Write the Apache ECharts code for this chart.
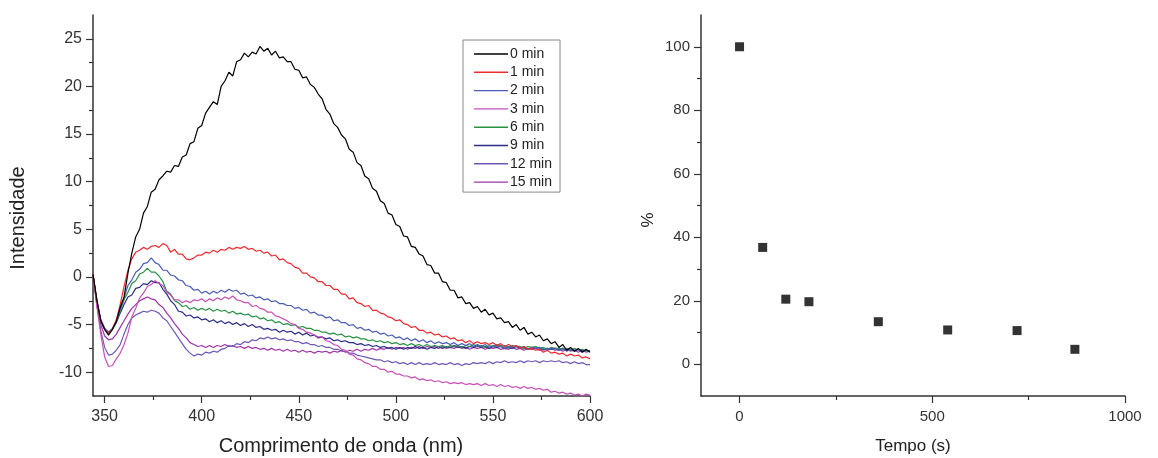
<!DOCTYPE html>
<html>
<head>
<meta charset="utf-8">
<script src="https://cdn.jsdelivr.net/npm/echarts@6/dist/echarts.min.js"></script>
<style>
html,body{margin:0;padding:0;background:#fff;}
#chart{width:1158px;height:458px;}
</style>
</head>
<body>
<div id="chart"></div>
<script>
// ---------- DATA ----------
const wavelengths = [
344,346,348,350,352,354,356,358,360,362,
364,366,368,370,372,374,376,378,380,382,
384,386,388,390,392,394,396,398,400,402,
404,406,408,410,412,414,416,418,420,422,
424,426,428,430,432,434,436,438,440,442,
444,446,448,450,452,454,456,458,460,462,
464,466,468,470,472,474,476,478,480,482,
484,486,488,490,492,494,496,498,500,502,
504,506,508,510,512,514,516,518,520,522,
524,526,528,530,532,534,536,538,540,542,
544,546,548,550,552,554,556,558,560,562,
564,566,568,570,572,574,576,578,580,582,
584,586,588,590,592,594,596,598,600];

const seriesNames = ['0 min','1 min','2 min','3 min','6 min','9 min','12 min','15 min'];

const int0min = [
0.3,-2.4,-4.6,-5.5,-6.1,-5.5,-4.7,-3.2,-2.1,0.4,
2.5,4.2,5.0,6.7,7.4,8.9,9.2,10.2,10.6,11.1,
11.0,11.7,11.6,12.6,12.8,14.0,14.2,15.6,15.9,17.2,
17.8,18.4,18.1,20.0,20.6,21.5,21.1,22.6,22.8,23.5,
23.1,23.6,23.4,24.2,23.7,24.0,23.3,23.7,23.0,23.1,
22.6,22.6,21.8,21.7,20.9,21.0,20.2,19.9,19.2,18.7,
17.6,17.1,16.1,15.7,14.9,14.5,13.4,13.1,12.0,11.7,
10.6,10.3,9.3,9.0,8.0,7.7,6.7,6.5,5.5,5.3,
4.3,4.2,3.2,3.1,2.4,2.2,1.3,1.2,0.4,0.4,
-0.5,-0.6,-1.4,-1.4,-2.2,-2.1,-2.8,-2.7,-3.3,-3.1,
-3.7,-3.4,-4.0,-3.8,-4.4,-4.3,-4.8,-4.7,-5.3,-5.0,
-5.6,-5.3,-6.0,-5.8,-6.3,-6.1,-6.7,-6.5,-7.0,-6.8,
-7.4,-7.1,-7.7,-7.4,-7.8,-7.5,-7.9,-7.6,-7.9];

const int1min = [
0.2,-2.5,-4.6,-5.5,-5.9,-5.5,-4.5,-2.9,-1.0,0.7,
1.9,2.6,2.8,3.1,2.9,3.2,3.3,3.1,3.5,3.3,
2.6,2.9,2.4,2.4,1.9,1.8,2.0,2.3,2.3,2.6,
2.5,2.8,2.6,2.9,2.8,3.1,2.9,3.1,3.0,3.2,
2.9,3.0,2.7,2.8,2.5,2.6,2.2,2.3,1.8,1.9,
1.5,1.4,1.0,0.9,0.4,0.4,0.0,-0.1,-0.5,-0.5,
-0.9,-0.9,-1.3,-1.3,-1.8,-1.8,-2.3,-2.2,-2.7,-2.8,
-3.1,-3.0,-3.5,-3.5,-3.8,-3.9,-4.2,-4.3,-4.6,-4.5,
-4.9,-5.0,-5.3,-5.2,-5.6,-5.6,-5.9,-5.8,-6.1,-6.0,
-6.3,-6.2,-6.5,-6.4,-6.7,-6.6,-6.9,-6.7,-7.0,-6.8,
-7.0,-6.9,-7.1,-6.9,-7.2,-7.0,-7.3,-7.1,-7.3,-7.2,
-7.5,-7.3,-7.6,-7.5,-7.7,-7.6,-7.9,-7.7,-8.0,-7.9,
-8.1,-8.0,-8.3,-8.1,-8.3,-8.2,-8.5,-8.4,-8.6];

const int2min = [
0.2,-2.6,-4.5,-5.4,-5.8,-5.4,-4.6,-3.4,-2.2,-0.9,
-0.3,0.5,0.8,1.4,1.5,2.0,1.5,1.3,0.7,0.7,
0.2,0.1,-0.3,-0.4,-0.9,-1.0,-1.4,-1.3,-1.7,-1.5,
-1.8,-1.5,-1.7,-1.4,-1.6,-1.3,-1.5,-1.4,-1.8,-1.7,
-2.0,-1.9,-2.2,-2.1,-2.4,-2.3,-2.6,-2.5,-2.8,-2.8,
-3.0,-3.0,-3.3,-3.2,-3.5,-3.4,-3.8,-3.7,-4.0,-4.0,
-4.3,-4.2,-4.6,-4.5,-4.8,-4.8,-5.1,-5.0,-5.4,-5.3,
-5.6,-5.5,-5.8,-5.7,-6.0,-5.9,-6.2,-6.1,-6.4,-6.3,
-6.6,-6.4,-6.7,-6.5,-6.8,-6.6,-6.9,-6.7,-7.0,-6.8,
-7.0,-6.9,-7.1,-6.9,-7.2,-7.0,-7.2,-7.0,-7.3,-7.1,
-7.3,-7.1,-7.4,-7.2,-7.3,-7.2,-7.5,-7.3,-7.4,-7.3,
-7.5,-7.3,-7.6,-7.4,-7.5,-7.4,-7.7,-7.5,-7.6,-7.5,
-7.7,-7.5,-7.8,-7.6,-7.7,-7.6,-7.9,-7.7,-7.8];

const int3min = [
0.3,-3.1,-6.0,-8.4,-9.4,-9.3,-8.6,-8.0,-7.1,-5.9,
-4.2,-3.3,-2.2,-1.7,-1.0,-0.8,-0.4,-0.7,-0.9,-1.6,
-1.9,-2.4,-2.4,-2.7,-2.5,-2.7,-2.4,-2.5,-2.3,-2.6,
-2.3,-2.5,-2.2,-2.4,-2.1,-2.3,-2.0,-2.4,-2.5,-2.7,
-2.7,-3.1,-3.0,-3.3,-3.4,-3.7,-3.7,-4.1,-4.2,-4.4,
-4.6,-4.9,-5.0,-5.4,-5.5,-5.8,-5.9,-6.1,-6.3,-6.3,
-6.7,-6.8,-7.1,-7.2,-7.6,-7.7,-8.1,-8.2,-8.6,-8.7,
-9.0,-9.1,-9.4,-9.4,-9.7,-9.7,-10.0,-9.9,-10.2,-10.2,
-10.4,-10.4,-10.6,-10.5,-10.8,-10.7,-10.9,-10.8,-11.0,-10.9,
-11.1,-11.0,-11.2,-11.1,-11.2,-11.1,-11.3,-11.2,-11.3,-11.2,
-11.4,-11.2,-11.4,-11.3,-11.5,-11.3,-11.5,-11.4,-11.6,-11.5,
-11.7,-11.5,-11.7,-11.6,-11.8,-11.7,-11.9,-11.8,-12.1,-12.0,
-12.2,-12.1,-12.3,-12.2,-12.4,-12.3,-12.5,-12.3,-12.4];

const int6min = [
0.2,-2.5,-4.5,-5.4,-5.9,-5.5,-4.7,-3.6,-2.4,-1.6,
-0.7,-0.4,0.3,0.5,0.9,0.5,0.5,0.1,-0.5,-1.5,
-1.8,-2.5,-2.7,-3.1,-3.0,-3.4,-3.2,-3.5,-3.3,-3.5,
-3.3,-3.6,-3.4,-3.6,-3.5,-3.8,-3.6,-3.9,-3.8,-4.0,
-3.9,-4.2,-4.1,-4.4,-4.3,-4.6,-4.5,-4.8,-4.7,-5.0,
-4.9,-5.1,-5.0,-5.3,-5.2,-5.4,-5.4,-5.6,-5.6,-5.8,
-5.8,-6.0,-5.9,-6.1,-6.0,-6.3,-6.2,-6.4,-6.3,-6.5,
-6.5,-6.7,-6.6,-6.8,-6.7,-6.9,-6.8,-7.0,-6.9,-7.1,
-7.0,-7.2,-7.0,-7.2,-7.1,-7.3,-7.1,-7.3,-7.2,-7.3,
-7.2,-7.4,-7.2,-7.3,-7.2,-7.4,-7.2,-7.3,-7.1,-7.3,
-7.2,-7.4,-7.2,-7.3,-7.1,-7.3,-7.2,-7.4,-7.2,-7.3,
-7.3,-7.5,-7.3,-7.4,-7.3,-7.5,-7.4,-7.6,-7.4,-7.5,
-7.5,-7.6,-7.5,-7.7,-7.5,-7.7,-7.6,-7.8,-7.7];

const int9min = [
0.2,-2.6,-4.6,-5.5,-5.8,-5.5,-4.8,-3.8,-2.9,-2.1,
-1.9,-1.2,-1.1,-0.7,-0.8,-0.4,-0.6,-0.6,-1.3,-1.8,
-2.5,-2.9,-3.6,-3.7,-4.1,-4.0,-4.3,-4.2,-4.5,-4.4,
-4.7,-4.5,-4.8,-4.6,-4.9,-4.7,-5.0,-4.8,-5.1,-4.9,
-5.2,-5.0,-5.3,-5.2,-5.5,-5.4,-5.6,-5.5,-5.8,-5.6,
-5.8,-5.7,-6.0,-5.8,-6.1,-5.9,-6.2,-6.1,-6.4,-6.3,
-6.5,-6.4,-6.7,-6.6,-6.8,-6.7,-6.9,-6.9,-7.1,-7.0,
-7.2,-7.1,-7.3,-7.2,-7.4,-7.3,-7.5,-7.4,-7.6,-7.4,
-7.6,-7.4,-7.5,-7.3,-7.5,-7.4,-7.6,-7.4,-7.5,-7.3,
-7.5,-7.3,-7.4,-7.2,-7.4,-7.3,-7.5,-7.3,-7.4,-7.2,
-7.4,-7.3,-7.5,-7.3,-7.4,-7.3,-7.5,-7.4,-7.5,-7.3,
-7.5,-7.4,-7.6,-7.4,-7.5,-7.4,-7.6,-7.5,-7.6,-7.5,
-7.7,-7.5,-7.7,-7.6,-7.8,-7.6,-7.8,-7.7,-7.8];

const int12min = [
0.2,-3.0,-5.6,-7.4,-8.2,-8.1,-7.7,-7.1,-6.0,-5.0,
-4.3,-4.0,-3.8,-3.6,-3.7,-3.5,-3.6,-3.8,-4.3,-4.6,
-5.2,-5.8,-6.4,-7.0,-7.6,-8.0,-8.3,-8.1,-8.2,-7.9,
-8.0,-7.8,-7.9,-7.6,-7.5,-7.2,-7.3,-7.0,-7.1,-6.8,
-6.9,-6.6,-6.7,-6.4,-6.5,-6.3,-6.5,-6.4,-6.6,-6.5,
-6.7,-6.6,-6.8,-6.8,-7.0,-6.9,-7.1,-7.1,-7.3,-7.2,
-7.4,-7.4,-7.6,-7.6,-7.8,-7.8,-8.0,-8.0,-8.2,-8.3,
-8.4,-8.5,-8.6,-8.7,-8.7,-8.9,-8.8,-9.0,-8.9,-9.1,
-9.0,-9.2,-9.0,-9.2,-9.0,-9.2,-9.1,-9.2,-9.0,-9.2,
-9.1,-9.2,-9.0,-9.2,-9.1,-9.3,-9.1,-9.2,-9.0,-9.1,
-9.0,-9.1,-8.9,-9.1,-8.9,-9.0,-8.8,-9.0,-8.9,-9.0,
-8.8,-9.0,-8.8,-8.9,-8.8,-9.0,-8.8,-8.9,-8.8,-8.9,
-8.8,-9.0,-8.9,-9.1,-8.9,-9.1,-9.0,-9.2,-9.2];

const int15min = [
0.2,-2.8,-5.0,-6.2,-6.6,-6.5,-6.0,-5.3,-4.6,-3.9,
-3.3,-2.9,-2.5,-2.3,-2.1,-2.3,-2.4,-2.9,-3.2,-3.8,
-4.3,-4.9,-5.4,-6.0,-6.4,-6.9,-7.1,-7.3,-7.2,-7.4,
-7.2,-7.4,-7.2,-7.3,-7.1,-7.3,-7.2,-7.4,-7.3,-7.5,
-7.3,-7.5,-7.4,-7.6,-7.5,-7.7,-7.5,-7.7,-7.6,-7.8,
-7.6,-7.8,-7.7,-7.9,-7.7,-7.9,-7.8,-8.0,-7.8,-7.9,
-7.8,-8.0,-7.8,-7.9,-7.7,-7.9,-7.7,-7.8,-7.6,-7.8,
-7.6,-7.7,-7.5,-7.7,-7.5,-7.6,-7.4,-7.6,-7.4,-7.5,
-7.4,-7.6,-7.4,-7.5,-7.3,-7.5,-7.3,-7.4,-7.3,-7.5,
-7.3,-7.5,-7.4,-7.5,-7.3,-7.5,-7.4,-7.6,-7.4,-7.5,
-7.4,-7.6,-7.4,-7.5,-7.4,-7.6,-7.5,-7.6,-7.4,-7.6,
-7.5,-7.7,-7.5,-7.6,-7.5,-7.7,-7.6,-7.7,-7.5,-7.7,
-7.6,-7.8,-7.6,-7.8,-7.7,-7.9,-7.7,-7.9,-7.8];

// Right panel: remaining percentage vs time
const timeSec = [0, 60, 120, 180, 360, 540, 720, 870];
const percent = [100, 36.8, 20.5, 19.7, 13.4, 10.8, 10.6, 4.7];

// Tick values
const specXTicks = [350, 400, 450, 500, 550, 600];
const specXMinor = [375, 425, 475, 525, 575];
const specYTicks = [-10, -5, 0, 5, 10, 15, 20, 25];
const specYMinor = [-7.5, -2.5, 2.5, 7.5, 12.5, 17.5, 22.5];
const timeXTicks = [0, 500, 1000];
const timeXMinor = [250, 750];
const pctYTicks = [0, 20, 40, 60, 80, 100];
const pctYMinor = [10, 30, 50, 70, 90];

// ---------- CHART ----------
const spectra = [int0min, int1min, int2min, int3min, int6min, int9min, int12min, int15min];
const colors = ['#000000', '#EE2A2E', '#4B5DB6', '#C650B6', '#289245', '#2B2C86', '#6E58B6', '#9E34A6'];
const FONT = '"Liberation Sans", Arial, sans-serif';
const AX = '#333333';

function mkXAxis(gridIndex, min, max, ticks, isMinor, fontSize) {
  return {
    type: 'value', gridIndex, min, max, position: 'bottom',
    axisLine: { show: !isMinor, onZero: false, lineStyle: { color: AX, width: 1.5 } },
    axisTick: { show: true, inside: false, length: isMinor ? 4 : 7, customValues: ticks, lineStyle: { color: AX, width: 1.2 } },
    axisLabel: { show: !isMinor, customValues: ticks, margin: 13, color: AX, fontSize, fontFamily: FONT,
                 formatter: v => String(v) },
    splitLine: { show: false }
  };
}
function mkYAxis(gridIndex, min, max, ticks, isMinor, fontSize) {
  return {
    type: 'value', gridIndex, min, max, position: 'left',
    axisLine: { show: !isMinor, onZero: false, lineStyle: { color: AX, width: 1.5 } },
    axisTick: { show: true, inside: false, length: isMinor ? 4 : 7, customValues: ticks, lineStyle: { color: AX, width: 1.2 } },
    axisLabel: { show: !isMinor, customValues: ticks, margin: 11, color: AX, fontSize, fontFamily: FONT,
                 formatter: v => String(v) },
    splitLine: { show: false }
  };
}

const lineSeries = seriesNames.map((name, k) => ({
  name, type: 'line', xAxisIndex: 0, yAxisIndex: 0,
  data: wavelengths.map((w, i) => [w, spectra[k][i]]),
  symbol: 'none', showSymbol: false,
  lineStyle: { color: colors[k], width: 1.2 },
  itemStyle: { color: colors[k] },
  z: 2 + (seriesNames.length - k)
}));

const option = {
  animation: false,
  backgroundColor: '#ffffff',
  textStyle: { fontFamily: FONT },
  grid: [
    { left: 93, right: 568, top: 15, bottom: 62, containLabel: false, outerBoundsMode: 'none' },
    { left: 701, right: 33, top: 15, bottom: 62, containLabel: false, outerBoundsMode: 'none' }
  ],
  xAxis: [
    mkXAxis(0, 344, 600, specXTicks, false, 16),
    mkXAxis(0, 344, 600, specXMinor, true, 16),
    mkXAxis(1, -100, 1000, timeXTicks, false, 15),
    mkXAxis(1, -100, 1000, timeXMinor, true, 15)
  ],
  yAxis: [
    mkYAxis(0, -12.5, 27.5, specYTicks, false, 16),
    mkYAxis(0, -12.5, 27.5, specYMinor, true, 16),
    mkYAxis(1, -10, 110, pctYTicks, false, 15),
    mkYAxis(1, -10, 110, pctYMinor, true, 15)
  ],
  legend: {
    data: seriesNames,
    orient: 'vertical',
    left: 463, top: 40,
    padding: [7, 8, 3, 11],
    icon: 'rect',
    symbolKeepAspect: false,
    itemWidth: 34, itemHeight: 1.4, itemGap: 4.3,
    borderColor: '#888', borderWidth: 1,
    textStyle: { fontSize: 14, lineHeight: 14, color: '#222', fontFamily: FONT, padding: [0, 0, 0, -3] }
  },
  graphic: [
    { type: 'text', x: 18, y: 218, rotation: Math.PI / 2,
      style: { text: 'Intensidade', fontSize: 20, fontFamily: FONT, fill: '#222', textAlign: 'center', textVerticalAlign: 'middle' } },
    { type: 'text', x: 341, y: 446,
      style: { text: 'Comprimento de onda (nm)', fontSize: 20, fontFamily: FONT, fill: '#222', textAlign: 'center', textVerticalAlign: 'middle' } },
    { type: 'text', x: 648, y: 220, rotation: Math.PI / 2,
      style: { text: '%', fontSize: 17, fontFamily: FONT, fill: '#222', textAlign: 'center', textVerticalAlign: 'middle' } },
    { type: 'text', x: 913, y: 446,
      style: { text: 'Tempo (s)', fontSize: 17, fontFamily: FONT, fill: '#222', textAlign: 'center', textVerticalAlign: 'middle' } }
  ],
  series: lineSeries.concat([
    {
      name: 'pct', type: 'scatter', xAxisIndex: 2, yAxisIndex: 2,
      data: timeSec.map((t, i) => [t, percent[i]]),
      symbol: 'rect', symbolSize: 9,
      itemStyle: { color: '#000' }
    }
  ])
};

const chart = echarts.init(document.getElementById('chart'), null, { renderer: 'canvas' });
chart.setOption(option);
</script>
</body>
</html>
